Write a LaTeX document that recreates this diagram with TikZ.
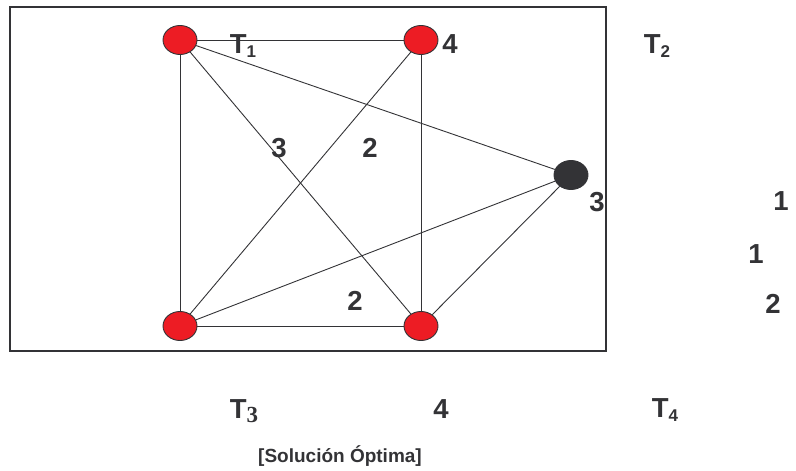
\documentclass[tikz,border=0pt]{standalone}
\usepackage{fontspec}
\setmainfont{Liberation Sans}
\newfontfamily\subserif{Liberation Serif}
\usetikzlibrary{shapes.geometric}
\definecolor{ink}{HTML}{333336}
\definecolor{nodered}{HTML}{ED1C24}
\newcommand{\sbs}[1]{\raisebox{-4pt}{\fontsize{17}{17}\selectfont #1}}
\newcommand{\sbserif}[1]{\raisebox{-4pt}{\fontsize{23}{23}\selectfont\subserif\bfseries #1}}
\begin{document}
\begin{tikzpicture}[x=1pt,y=-1pt,
  vert/.style={ellipse, draw=ink, line width=0.9pt, fill=nodered, minimum width=34pt, minimum height=29pt, inner sep=0pt},
  dark/.style={vert, fill=ink},
  edge/.style={draw=ink, line width=0.9pt},
  lbl/.style={anchor=base, inner sep=0pt, text=ink, font=\fontsize{27.5}{27.5}\selectfont\bfseries},
  captext/.style={anchor=base, inner sep=0pt, text=ink, font=\fontsize{19}{19}\selectfont\bfseries}]
\useasboundingbox (0,0) rectangle (796,471);
\draw[draw=ink, line width=1.5pt] (10,7) rectangle (606,351);
\node[vert] (A) at (180,40) {};
\node[vert] (B) at (421,40) {};
\node[dark] (C) at (571,175) {};
\node[vert] (D) at (180,326) {};
\node[vert] (E) at (421,326) {};
\draw[edge] (A) -- (B);
\draw[edge] (A) -- (D);
\draw[edge] (A) -- (E);
\draw[edge] (A) -- (C);
\draw[edge] (B) -- (D);
\draw[edge] (B) -- (E);
\draw[edge] (D) -- (E);
\draw[edge] (D) -- (C);
\draw[edge] (E) -- (C);
\node[lbl] (t1) at (243,53) {T\sbs{1}};
\node[lbl] (w4a) at (450,53) {4};
\node[lbl] (t2) at (657,53) {T\sbs{2}};
\node[lbl] (w3a) at (279,157) {3};
\node[lbl] (w2a) at (370,157) {2};
\node[lbl] (w3b) at (597,211) {3};
\node[lbl] (w1a) at (781,210) {1};
\node[lbl] (w1b) at (756,263) {1};
\node[lbl] (w2b) at (773,313) {2};
\node[lbl] (w2c) at (355,310) {2};
\node[lbl] (t3) at (244,418) {T\sbserif{3}};
\node[lbl] (w4b) at (441,418) {4};
\node[lbl] (t4) at (665,417) {T\sbs{4}};
\node[captext] (sol) at (340,462) {[Solución Óptima]};
\end{tikzpicture}
\end{document}
